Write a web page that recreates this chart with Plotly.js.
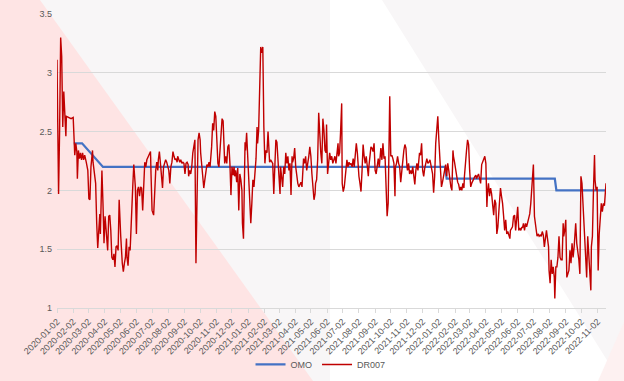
<!DOCTYPE html>
<html>
<head>
<meta charset="utf-8">
<script src="https://cdn.plot.ly/plotly-3.0.1.min.js"></script>
<style>
  html, body { margin: 0; padding: 0; background: #ffffff; }
  #wrap { position: relative; width: 624px; height: 381px; overflow: hidden; }
  #bg { position: absolute; left: 0; top: 0; }
  #chart { position: absolute; left: 0; top: 0; width: 624px; height: 381px; }
</style>
</head>
<body>
<div id="wrap">
  <svg id="bg" width="624" height="381" xmlns="http://www.w3.org/2000/svg">
    <rect x="0" y="0" width="624" height="381" fill="#f8f6f7"/>
    <polygon points="330,0 382,0 620,381 330,381" fill="#ffffff"/>
    <polygon points="0,0 40,0 313,381 0,381" fill="#fee4e4"/>
    <polygon points="624,322 624,381 598,381" fill="#fdf1f1"/>
  </svg>
  <div id="chart"></div>
</div>
<script>
// ---- Data ----
const omoDates = ['2020-02-03','2020-02-19','2020-03-30','2022-01-14','2022-01-17','2022-08-12','2022-08-15','2022-11-18'];
const omoValues = [2.4, 2.4, 2.2, 2.2, 2.1, 2.1, 2.0, 2.0];

const dr007Dates = [
'2020-01-02','2020-01-03','2020-01-05','2020-01-07','2020-01-09','2020-01-11','2020-01-13','2020-01-15','2020-01-17','2020-01-19',
'2020-01-20','2020-01-24','2020-01-29','2020-02-02','2020-02-03','2020-02-05','2020-02-07','2020-02-09','2020-02-10','2020-02-12',
'2020-02-14','2020-02-16','2020-02-18','2020-02-20','2020-02-22','2020-02-24','2020-02-27','2020-03-01','2020-03-03','2020-03-05',
'2020-03-07','2020-03-10','2020-03-11','2020-03-13','2020-03-16','2020-03-18','2020-03-20','2020-03-22','2020-03-24','2020-03-25',
'2020-03-28','2020-03-30','2020-04-01','2020-04-03','2020-04-05','2020-04-08','2020-04-10','2020-04-12','2020-04-14','2020-04-16',
'2020-04-18','2020-04-20','2020-04-22','2020-04-24','2020-04-26','2020-04-28','2020-04-30','2020-05-01','2020-05-03','2020-05-06',
'2020-05-08','2020-05-10','2020-05-12','2020-05-14','2020-05-15','2020-05-17','2020-05-19','2020-05-21','2020-05-23','2020-05-26',
'2020-05-28','2020-05-29','2020-05-31','2020-06-02','2020-06-04','2020-06-06','2020-06-08','2020-06-10','2020-06-12','2020-06-14',
'2020-06-16','2020-06-18','2020-06-20','2020-06-22','2020-06-25','2020-06-29','2020-06-30','2020-07-02','2020-07-05','2020-07-07',
'2020-07-09','2020-07-11','2020-07-13','2020-07-14','2020-07-16','2020-07-18','2020-07-20','2020-07-22','2020-07-24','2020-07-26',
'2020-07-28','2020-07-30','2020-08-01','2020-08-03','2020-08-05','2020-08-07','2020-08-09','2020-08-11','2020-08-13','2020-08-15',
'2020-08-17','2020-08-19','2020-08-20','2020-08-22','2020-08-24','2020-08-26','2020-08-28','2020-08-30','2020-09-01','2020-09-03',
'2020-09-05','2020-09-07','2020-09-09','2020-09-10','2020-09-12','2020-09-14','2020-09-16','2020-09-18','2020-09-20','2020-09-22',
'2020-09-24','2020-09-26','2020-09-28','2020-09-30','2020-10-02','2020-10-03','2020-10-05','2020-10-07','2020-10-09','2020-10-11',
'2020-10-13','2020-10-15','2020-10-17','2020-10-19','2020-10-21','2020-10-23','2020-10-24','2020-10-26','2020-10-28','2020-10-30',
'2020-11-01','2020-11-03','2020-11-05','2020-11-07','2020-11-09','2020-11-11','2020-11-13','2020-11-15','2020-11-16','2020-11-18',
'2020-11-20','2020-11-22','2020-11-24','2020-11-26','2020-11-28','2020-11-30','2020-12-02','2020-12-04','2020-12-06','2020-12-07',
'2020-12-09','2020-12-11','2020-12-13','2020-12-15','2020-12-17','2020-12-19','2020-12-21','2020-12-22','2020-12-24','2020-12-27',
'2020-12-28','2020-12-30',
'2021-01-01','2021-01-03','2021-01-05','2021-01-07','2021-01-09','2021-01-11','2021-01-13','2021-01-15','2021-01-17','2021-01-19',
'2021-01-20','2021-01-22','2021-01-24','2021-01-26','2021-01-28','2021-01-30','2021-02-01','2021-02-03','2021-02-05','2021-02-07',
'2021-02-09','2021-02-11','2021-02-12','2021-02-14','2021-02-16','2021-02-18','2021-02-20','2021-02-22','2021-02-24','2021-02-26',
'2021-02-28','2021-03-02','2021-03-04','2021-03-05','2021-03-07','2021-03-09','2021-03-11','2021-03-13','2021-03-15','2021-03-17',
'2021-03-19','2021-03-21','2021-03-23','2021-03-25','2021-03-27','2021-03-28','2021-03-30','2021-04-01','2021-04-03','2021-04-05',
'2021-04-07','2021-04-09','2021-04-11','2021-04-13','2021-04-15','2021-04-17','2021-04-18','2021-04-20','2021-04-22','2021-04-24',
'2021-04-26','2021-04-28','2021-04-30','2021-05-02','2021-05-04','2021-05-06','2021-05-08','2021-05-10','2021-05-11','2021-05-13',
'2021-05-15','2021-05-17','2021-05-19','2021-05-21','2021-05-23','2021-05-25','2021-05-27','2021-05-29','2021-05-31','2021-06-01',
'2021-06-03','2021-06-05','2021-06-07','2021-06-09','2021-06-11','2021-06-13','2021-06-15','2021-06-17','2021-06-19','2021-06-21',
'2021-06-23','2021-06-24','2021-06-26','2021-06-28','2021-06-30','2021-07-01','2021-07-03','2021-07-05','2021-07-07','2021-07-08',
'2021-07-10','2021-07-12','2021-07-14','2021-07-16','2021-07-18','2021-07-20','2021-07-22','2021-07-24','2021-07-26','2021-07-28',
'2021-07-30','2021-07-31','2021-08-02','2021-08-04','2021-08-06','2021-08-08','2021-08-10','2021-08-12','2021-08-14','2021-08-16',
'2021-08-18','2021-08-20','2021-08-21','2021-08-23','2021-08-25','2021-08-27','2021-08-29','2021-08-31','2021-09-02','2021-09-04',
'2021-09-06','2021-09-08','2021-09-10','2021-09-11','2021-09-13','2021-09-15','2021-09-17','2021-09-19','2021-09-21','2021-09-23',
'2021-09-25','2021-09-27','2021-09-29','2021-09-30','2021-10-02','2021-10-04','2021-10-06','2021-10-08','2021-10-10','2021-10-11',
'2021-10-13','2021-10-15','2021-10-17','2021-10-19','2021-10-21','2021-10-23','2021-10-25','2021-10-27','2021-10-29','2021-10-31',
'2021-11-02','2021-11-03','2021-11-05','2021-11-07','2021-11-09','2021-11-11','2021-11-13','2021-11-15','2021-11-17','2021-11-19',
'2021-11-21','2021-11-23','2021-11-24','2021-11-26','2021-11-28','2021-11-30','2021-12-02','2021-12-04','2021-12-06','2021-12-08',
'2021-12-10','2021-12-12','2021-12-14','2021-12-16','2021-12-17','2021-12-19','2021-12-21','2021-12-23','2021-12-25','2021-12-27',
'2021-12-29','2021-12-31',
'2022-01-02','2022-01-04','2022-01-06','2022-01-07','2022-01-09','2022-01-11','2022-01-13','2022-01-15','2022-01-17','2022-01-19',
'2022-01-21','2022-01-23','2022-01-25','2022-01-27','2022-01-29','2022-01-30','2022-02-01','2022-02-03','2022-02-05','2022-02-07',
'2022-02-09','2022-02-11','2022-02-13','2022-02-15','2022-02-17','2022-02-19','2022-02-20','2022-02-22','2022-02-24','2022-02-26',
'2022-02-28','2022-03-02','2022-03-04','2022-03-06','2022-03-08','2022-03-10','2022-03-12','2022-03-14','2022-03-15','2022-03-17',
'2022-03-19','2022-03-21','2022-03-23','2022-03-25','2022-03-27','2022-03-29','2022-03-31','2022-04-02','2022-04-04','2022-04-05',
'2022-04-07','2022-04-09','2022-04-11','2022-04-13','2022-04-15','2022-04-17','2022-04-19','2022-04-21','2022-04-23','2022-04-25',
'2022-04-27','2022-04-28','2022-04-30','2022-05-02','2022-05-04','2022-05-06','2022-05-08','2022-05-10','2022-05-12','2022-05-14',
'2022-05-16','2022-05-18','2022-05-19','2022-05-21','2022-05-23','2022-05-25','2022-05-27','2022-05-29','2022-05-31','2022-06-02',
'2022-06-04','2022-06-06','2022-06-08','2022-06-10','2022-06-11','2022-06-13','2022-06-15','2022-06-17','2022-06-19','2022-06-21',
'2022-06-23','2022-06-25','2022-06-27','2022-06-29','2022-07-01','2022-07-02','2022-07-04','2022-07-06','2022-07-08','2022-07-09',
'2022-07-11','2022-07-13','2022-07-15','2022-07-17','2022-07-19','2022-07-21','2022-07-23','2022-07-25','2022-07-27','2022-07-29',
'2022-07-31','2022-08-01','2022-08-03','2022-08-05','2022-08-07','2022-08-09','2022-08-11','2022-08-12','2022-08-14','2022-08-16',
'2022-08-18','2022-08-20','2022-08-22','2022-08-24','2022-08-26','2022-08-28','2022-08-29','2022-08-31','2022-09-02','2022-09-04',
'2022-09-06','2022-09-08','2022-09-10','2022-09-12','2022-09-14','2022-09-16','2022-09-18','2022-09-20','2022-09-21','2022-09-23',
'2022-09-25','2022-09-27','2022-09-29','2022-10-01','2022-10-03','2022-10-05','2022-10-07','2022-10-09','2022-10-11','2022-10-12',
'2022-10-14','2022-10-16','2022-10-18','2022-10-20','2022-10-21','2022-10-23','2022-10-25','2022-10-27','2022-10-28','2022-10-30',
'2022-11-01','2022-11-03','2022-11-05','2022-11-07','2022-11-09','2022-11-11','2022-11-13','2022-11-15','2022-11-17','2022-11-18'
];

const dr007Values = [
3.11,2.80,1.97,2.51,3.30,3.14,2.54,2.84,2.68,2.46,
2.63,2.62,2.61,2.62,2.46,2.30,2.40,2.33,2.10,2.34,
2.27,2.32,2.26,2.32,2.26,2.30,2.24,2.17,1.93,1.92,
2.20,2.34,2.24,2.14,2.06,1.72,1.51,1.66,1.80,1.63,
2.17,1.89,1.55,1.78,1.63,1.49,1.78,1.79,1.66,1.43,
1.41,1.46,1.35,1.52,1.53,1.49,1.92,1.78,1.61,1.38,
1.31,1.38,1.43,1.59,1.43,1.36,1.52,1.49,1.78,2.03,
2.22,2.14,2.03,1.63,2.00,2.03,1.95,2.03,2.02,1.83,
2.09,2.24,2.20,2.26,2.29,2.33,2.14,1.83,1.79,2.06,
2.17,2.24,2.17,2.26,2.33,2.23,2.09,2.02,2.20,2.23,
2.26,2.24,2.20,2.17,2.06,2.20,2.24,2.33,2.29,2.26,
2.27,2.24,2.29,2.26,2.24,2.26,2.23,2.24,2.23,2.14,
2.23,2.24,2.22,2.12,2.17,2.14,2.20,2.32,2.37,2.43,
1.38,2.09,2.43,2.49,2.43,2.32,2.23,2.14,2.02,2.09,
2.17,2.22,2.20,2.24,2.20,2.29,2.37,2.57,2.51,2.67,
2.63,2.43,2.23,2.20,2.37,2.51,2.61,2.59,2.43,2.23,
2.29,2.23,2.37,2.39,2.23,1.96,2.20,2.13,2.20,2.12,
2.17,2.07,2.19,1.83,2.14,2.09,2.00,1.72,1.59,2.41,
2.34,2.49,
2.32,2.06,1.89,1.72,1.89,2.09,2.03,2.14,2.27,2.54,
2.40,2.51,2.86,3.22,3.17,3.22,2.54,2.23,2.34,2.32,
2.50,2.29,2.24,2.26,2.24,2.23,1.97,2.23,2.43,2.41,
2.23,2.17,1.97,2.20,2.12,2.03,2.20,2.14,2.32,2.23,
2.29,2.17,2.23,1.96,2.29,2.24,2.27,2.36,2.20,2.12,
2.06,2.03,2.06,2.07,2.03,2.20,2.27,2.23,2.29,2.17,
2.26,2.29,2.37,2.29,2.14,2.03,1.92,1.97,2.06,2.09,
2.26,2.66,2.46,2.32,2.23,2.61,2.51,2.34,2.32,2.56,
2.14,2.23,2.32,2.26,2.29,2.23,2.26,2.29,2.23,2.34,
2.40,2.29,2.32,2.51,2.74,2.06,1.99,2.03,2.12,2.23,
2.26,2.20,2.24,2.22,2.23,2.20,2.27,2.20,2.29,2.40,
2.32,2.23,2.12,2.06,1.99,2.17,2.39,2.29,2.23,2.29,
2.22,2.12,2.20,2.29,2.37,2.36,2.33,2.40,2.17,2.14,
2.23,2.27,2.20,2.29,2.36,2.26,2.40,2.27,2.29,2.03,
1.78,1.89,2.32,2.80,2.29,2.30,2.27,2.23,1.95,2.20,
2.23,2.29,2.23,2.20,2.07,2.17,2.24,2.34,2.39,2.36,
2.20,2.17,2.23,2.14,2.17,2.14,2.20,2.12,2.05,2.17,
2.23,2.17,2.26,2.32,2.30,2.40,2.17,2.12,2.19,2.23,
2.27,2.23,2.24,2.26,2.23,2.20,2.14,1.98,2.12,2.40,
2.51,2.63,
2.43,2.23,2.06,2.03,2.07,2.12,2.17,2.22,2.12,2.23,
2.17,2.07,2.03,2.00,2.34,2.29,2.24,2.17,2.12,2.07,
2.05,2.00,2.03,2.00,2.06,2.02,2.12,2.26,2.34,2.43,
2.39,2.17,2.03,2.06,2.09,2.10,2.12,2.13,2.10,2.12,
2.14,2.10,2.06,2.22,2.24,2.26,2.29,2.23,1.86,1.97,
2.06,1.95,2.02,1.97,1.83,1.79,1.92,1.89,1.63,1.69,
1.83,1.95,2.02,1.95,1.89,1.78,1.66,1.75,1.63,1.65,
1.62,1.59,1.66,1.68,1.69,1.78,1.79,1.66,1.80,1.86,
1.66,1.68,1.66,1.69,1.68,1.72,1.66,1.72,1.69,1.73,
1.75,1.80,1.89,2.03,2.20,2.22,1.78,1.70,1.66,1.61,
1.63,1.61,1.62,1.61,1.65,1.62,1.52,1.61,1.66,1.59,
1.52,1.32,1.21,1.41,1.29,1.35,1.26,1.08,1.35,1.35,
1.43,1.61,1.43,1.41,1.41,1.72,1.61,1.66,1.75,1.26,
1.29,1.32,1.49,1.38,1.55,1.43,1.52,1.63,1.72,1.55,
1.49,1.41,1.29,2.12,2.06,1.89,1.66,1.49,1.41,1.26,
1.61,1.43,1.26,1.15,1.52,1.61,2.00,2.30,2.09,2.00,
2.03,1.32,1.63,1.78,1.89,1.82,1.89,1.87,1.97,2.06
];

const tickDates = [
'2020-01-02','2020-02-02','2020-03-02','2020-04-02','2020-05-02','2020-06-02','2020-07-02','2020-08-02','2020-09-02','2020-10-02','2020-11-02','2020-12-02',
'2021-01-02','2021-02-02','2021-03-02','2021-04-02','2021-05-02','2021-06-02','2021-07-02','2021-08-02','2021-09-02','2021-10-02','2021-11-02','2021-12-02',
'2022-01-02','2022-02-02','2022-03-02','2022-04-02','2022-05-02','2022-06-02','2022-07-02','2022-08-02','2022-09-02','2022-10-02','2022-11-02'
];
const seriesNames = ['OMO', 'DR007'];

// ---- Chart ----
const FONT = 'Liberation Sans, Arial, sans-serif';
const traces = [
  { x: omoDates, y: omoValues, name: seriesNames[0], type: 'scatter', mode: 'lines',
    line: { color: '#4472c4', width: 2.25 } },
  { x: dr007Dates, y: dr007Values, name: seriesNames[1], type: 'scatter', mode: 'lines',
    line: { color: '#c00000', width: 1.4 } }
];

const layout = {
  width: 624, height: 381,
  margin: { l: 57, r: 18, t: 14, b: 73, autoexpand: false },
  paper_bgcolor: 'rgba(0,0,0,0)',
  plot_bgcolor: 'rgba(0,0,0,0)',
  font: { family: FONT, size: 9, color: '#595959' },
  showlegend: true,
  legend: { orientation: 'h', x: 0.48, xanchor: 'center', y: -0.192, yanchor: 'middle',
            font: { family: FONT, size: 9, color: '#595959' }, bgcolor: 'rgba(0,0,0,0)',
            itemwidth: 30, tracegroupgap: 0 },
  xaxis: {
    type: 'date',
    range: ['2020-01-02', '2022-11-18'],
    tickmode: 'array', tickvals: tickDates, ticktext: tickDates,
    tickangle: -45,
    ticks: 'outside', ticklen: 4, tickcolor: '#d9d9d9', tickwidth: 1,
    showline: true, linecolor: '#d9d9d9', linewidth: 1,
    showgrid: false, zeroline: false,
    tickfont: { family: FONT, size: 9, color: '#595959' }
  },
  yaxis: {
    range: [1, 3.5], tick0: 1, dtick: 0.5,
    showgrid: true, gridcolor: '#d9d9d9', gridwidth: 1,
    showline: false, zeroline: false, ticks: '',
    ticklabelstandoff: 4,
    tickfont: { family: FONT, size: 9, color: '#595959' }
  }
};

Plotly.newPlot('chart', traces, layout, { displayModeBar: false, staticPlot: true });
</script>
</body>
</html>
